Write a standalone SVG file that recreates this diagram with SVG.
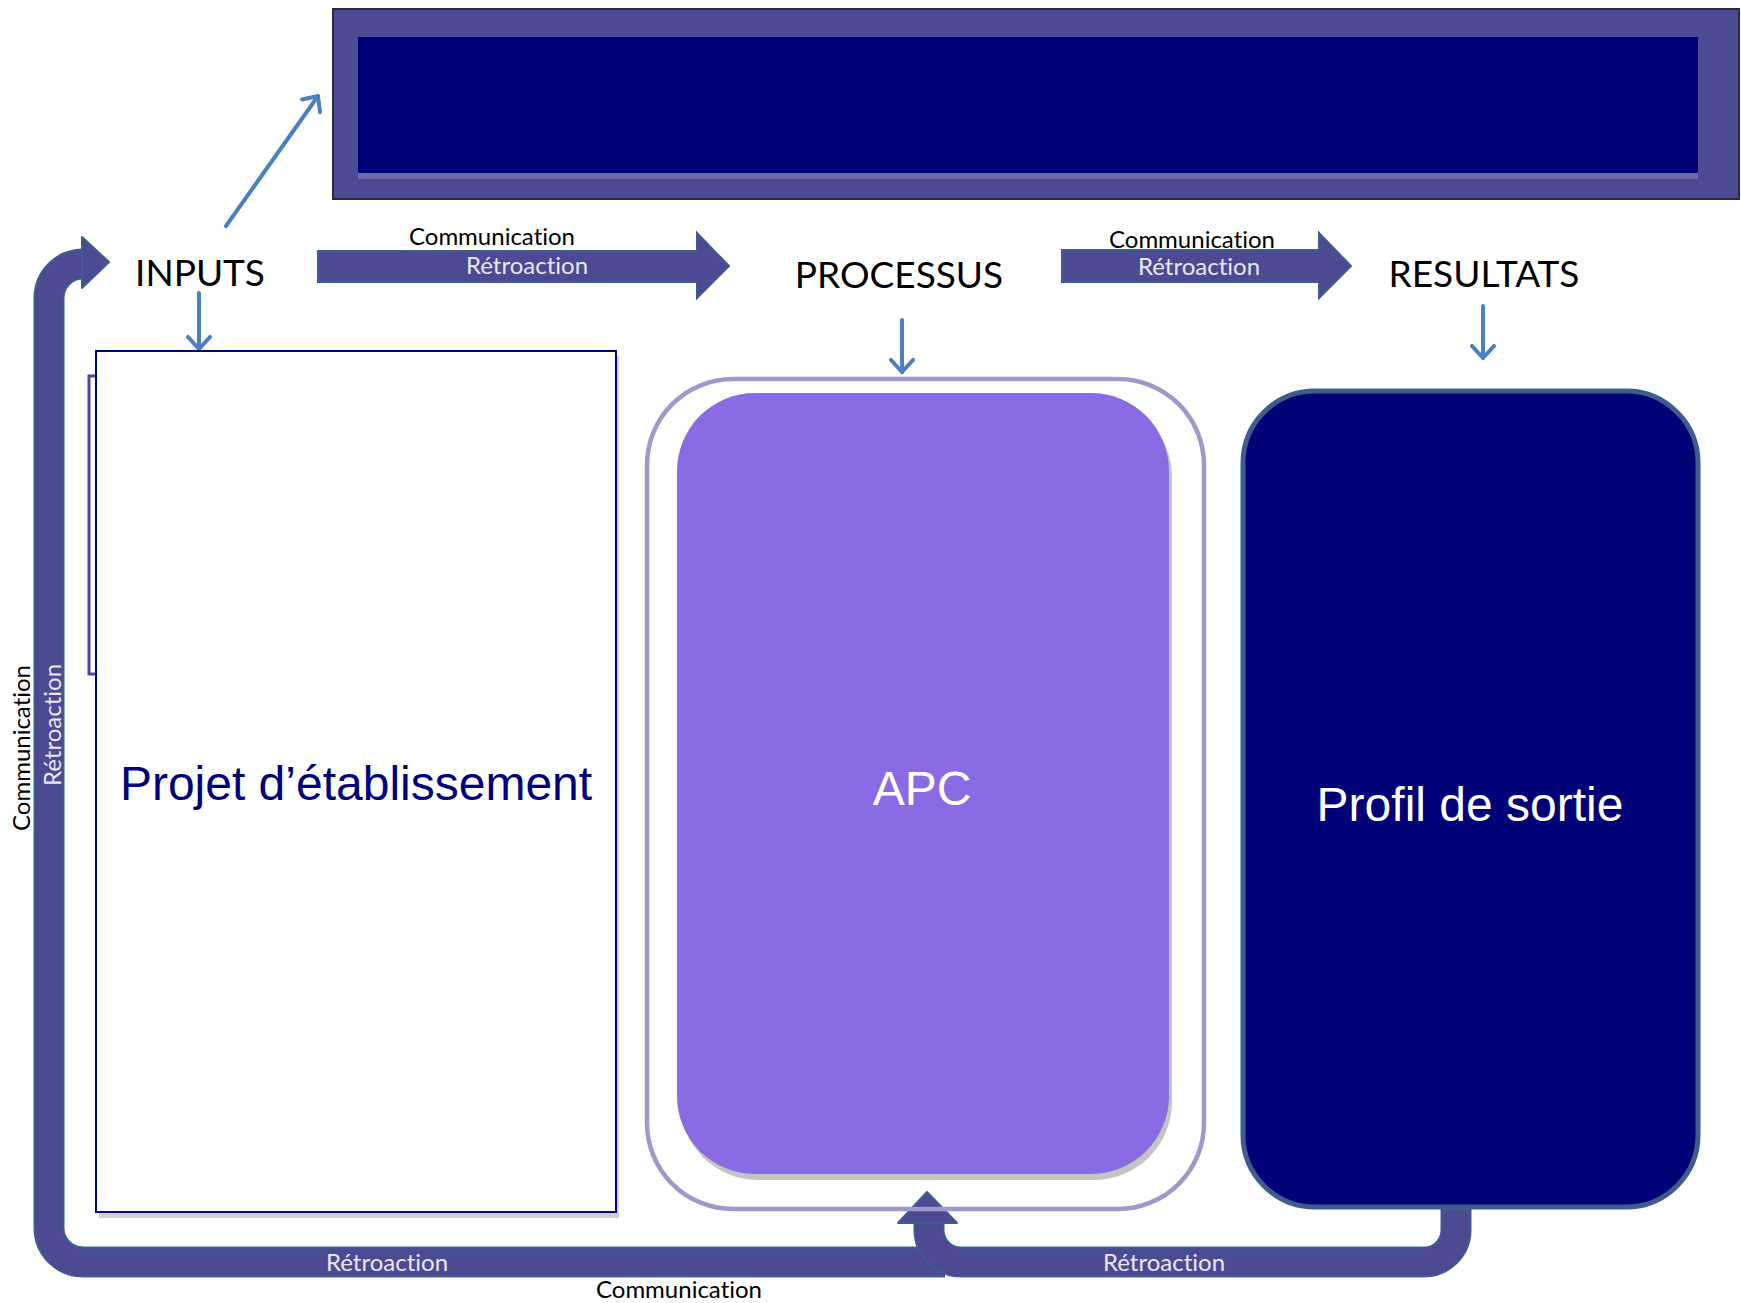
<svg xmlns="http://www.w3.org/2000/svg" width="1741" height="1303" viewBox="0 0 1741 1303">
<style>
.lbl{font-family:Lato,"Liberation Sans",sans-serif;font-size:24px;text-anchor:middle;font-variant-ligatures:none}
.blk{fill:#000}
.wht{fill:#e8e8f6}
.hdr{font-family:Lato,"Liberation Sans",sans-serif;font-size:37px;text-anchor:middle;fill:#000}
.big{font-family:"Liberation Sans",Arial,sans-serif;font-size:48px;text-anchor:middle}
.band{fill:none;stroke-linejoin:round}
.bandO{stroke:#3d5d8f;stroke-width:31}
.bandI{stroke:#4c4a93;stroke-width:27}
.blk-arrow{fill:#4c4a93;stroke:#3d5d8f;stroke-width:2}
.thin{fill:none;stroke:#4a7fc0;stroke-width:4;stroke-linecap:round}
</style>
<defs>
<marker id="chev" viewBox="0 0 16 26" refX="14" refY="13" markerWidth="16" markerHeight="26" markerUnits="userSpaceOnUse" orient="auto">
<path d="M2,2 L14,13 L2,24" fill="none" stroke="#4a7fc0" stroke-width="4" stroke-linecap="round" stroke-linejoin="round"/>
</marker>
</defs>
<rect width="1741" height="1303" fill="#fff"/>

<g id="top-box">
<rect x="333" y="9" width="1406" height="190" fill="#4c4a93" stroke="#2a2a3a" stroke-width="2"/>
<rect x="358" y="173" width="1340" height="6" fill="#6b6aa6"/>
<rect x="358" y="37" width="1340" height="136" fill="#000077"/>
</g>

<g id="connectors">
<path class="thin" d="M226,226 L318,96" marker-end="url(#chev)"/>
<path class="thin" d="M199,293 L199,349" marker-end="url(#chev)"/>
<path class="thin" d="M902,320 L902,372" marker-end="url(#chev)"/>
<path class="thin" d="M1483,306 L1483,358" marker-end="url(#chev)"/>
<polygon class="blk-arrow" points="318,251 697,251 697,233 729,266 697,298 697,282 318,282"/>
<polygon class="blk-arrow" points="1062,250 1319,250 1319,233 1351,266 1319,298 1319,282 1062,282"/>
<!-- left feedback loop -->
<path class="band bandO" d="M945,1262 H83 A34 34 0 0 1 49,1228 V298 A34 34 0 0 1 83,264 H86"/>
<path class="band bandI" d="M945,1262 H83 A34 34 0 0 1 49,1228 V298 A34 34 0 0 1 83,264 H86"/>
<polygon points="82,237 109,262 82,288" fill="#4c4a93" stroke="#3d5d8f" stroke-width="2" stroke-linejoin="round"/>
<!-- right feedback loop -->
<path class="band bandO" d="M1456,1195 V1230 A32 32 0 0 1 1424,1262 H961 A32 32 0 0 1 929,1230 V1220"/>
<path class="band bandI" d="M1456,1195 V1230 A32 32 0 0 1 1424,1262 H961 A32 32 0 0 1 929,1230 V1220"/>
<polygon points="898,1223 927,1192 957,1223" fill="#4c4a93" stroke="#3d5d8f" stroke-width="2" stroke-linejoin="round"/>
</g>

<g id="labels">
<text class="hdr" x="200" y="286">INPUTS</text>
<text class="hdr" x="899" y="288">PROCESSUS</text>
<text class="hdr" x="1484" y="287">RESULTATS</text>
<text class="lbl blk" x="492" y="245">Communication</text>
<text class="lbl wht" x="527" y="274">Rétroaction</text>
<text class="lbl blk" x="1192" y="248">Communication</text>
<text class="lbl wht" x="1199" y="275">Rétroaction</text>
<text class="lbl wht" x="387" y="1271">Rétroaction</text>
<text class="lbl wht" x="1164" y="1271">Rétroaction</text>
<text class="lbl blk" x="679" y="1298">Communication</text>
<text class="lbl blk" transform="translate(30,748) rotate(-90)">Communication</text>
<text class="lbl wht" transform="translate(61,725) rotate(-90)">Rétroaction</text>
</g>

<g id="node-projet">
<rect x="89" y="376" width="20" height="298" fill="#fff" stroke="#5048a0" stroke-width="3"/>
<rect x="99" y="356" width="520" height="862" fill="#d0d0d0"/>
<rect x="96" y="351" width="520" height="861" fill="#fff" stroke="#000080" stroke-width="2"/>
<text class="big" x="356" y="800" fill="#000080">Projet d’établissement</text>
</g>

<g id="node-apc">
<rect x="680" y="399" width="492" height="781" rx="78" fill="#c4c4c4"/>
<rect x="677" y="393" width="492" height="781" rx="78" fill="#8a6be3"/>
<rect x="647" y="379" width="557" height="830" rx="86" fill="none" stroke="#9f98cc" stroke-width="4.5"/>
<text class="big" x="922" y="805" fill="#fff">APC</text>
</g>

<g id="node-profil">
<rect x="1243" y="391" width="455" height="816" rx="72" fill="#000077" stroke="#3d5d8c" stroke-width="5"/>
<text class="big" x="1470" y="821" fill="#fff">Profil de sortie</text>
</g>
</svg>
